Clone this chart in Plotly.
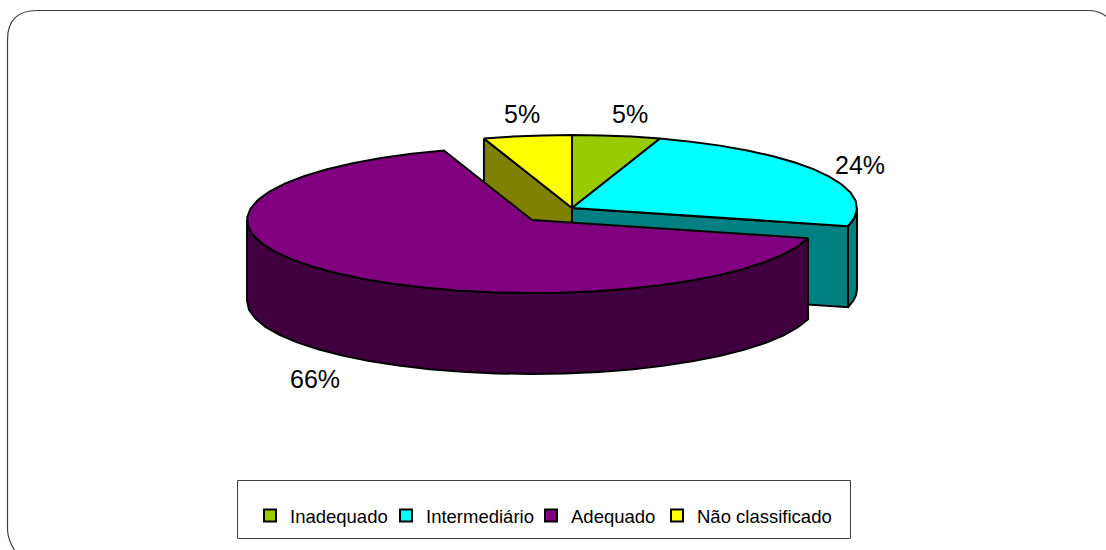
import math
import plotly.graph_objects as go

categories = ["Inadequado", "Intermediário", "Adequado", "Não classificado"]
values = [5, 24, 66, 5]
top_colors = ["#99CC00", "#00FFFF", "#800080", "#FFFF00"]
side_colors = ["#4D6600", "#008080", "#400040", "#808000"]
label_pos = [(630, 114), (860, 165), (315, 379), (522, 114)]
legend_text_x = [290, 426, 571, 697]

CX, CY = 572, 208        # centre of the pie, in page pixels
EX, EY = 532, 220        # centre of the pulled-out slice
RX, RY = 285, 73
DEPTH = 81
STEP = 7

total = sum(values)
edges = [0]
for v in values:
    edges.append(edges[-1] + v / total * 360)


def pt(cx, cy, a):
    r = math.radians(a)
    return cx + RX * math.sin(r), cy - RY * math.cos(r)


def arc(cx, cy, a0, a1):
    n = max(2, int(abs(a1 - a0) / STEP) + 1)
    return [pt(cx, cy, a0 + (a1 - a0) * i / n) for i in range(n + 1)]


def poly(points, color):
    xs = [p[0] for p in points] + [points[0][0]]
    ys = [p[1] for p in points] + [points[0][1]]
    return go.Scatter(x=xs, y=ys, mode="lines", fill="toself", fillcolor=color,
                      line=dict(color="#000000", width=2), hoverinfo="skip", showlegend=False)


def wall(outer):
    return outer + [(x, y + DEPTH) for x, y in reversed(outer)]


fig = go.Figure()

# Não classificado: cut face, then top
a0, a1 = edges[3], edges[4]
p = pt(CX, CY, a0)
fig.add_trace(poly([p, (CX, CY), (CX, CY + DEPTH), (p[0], p[1] + DEPTH)], side_colors[3]))
fig.add_trace(poly([(CX, CY)] + arc(CX, CY, a0, a1), top_colors[3]))

# Inadequado: top
fig.add_trace(poly([(CX, CY)] + arc(CX, CY, edges[0], edges[1]), top_colors[0]))

# Intermediário: cut face, outer wall, top
e = pt(CX, CY, edges[2])
fig.add_trace(poly([(CX, CY), e, (e[0], e[1] + DEPTH), (CX, CY + DEPTH)], side_colors[1]))
fig.add_trace(poly(wall(arc(CX, CY, 90, edges[2])), side_colors[1]))
fig.add_trace(poly([(CX, CY)] + arc(CX, CY, edges[1], edges[2]), top_colors[1]))

# Adequado: outer wall, top
fig.add_trace(poly(wall(arc(EX, EY, edges[2], 270)), side_colors[2]))
fig.add_trace(poly([(EX, EY)] + arc(EX, EY, edges[2], edges[3]), top_colors[2]))

# Legend entries, one small legend each so the spacing can follow the reference
legends = {}
for i, (name, c, tx) in enumerate(zip(categories, top_colors, legend_text_x)):
    key = "legend" if i == 0 else f"legend{i + 1}"
    fig.add_trace(go.Scatter(x=[None], y=[None], mode="markers", name=name, legend=key,
                             marker=dict(symbol="square", size=12, color=c,
                                         line=dict(color="#000000", width=2))))
    legends[key] = dict(orientation="h", x=(tx - 40) / 1106, xanchor="left",
                        y=1 - 497 / 550, yanchor="top", font=dict(size=18.5),
                        bgcolor="rgba(0,0,0,0)", borderwidth=0,
                        itemclick=False, itemdoubleclick=False)

annotations = [dict(x=x, y=y, text=f"{v}%", showarrow=False, xref="x", yref="y",
                    font=dict(size=25, color="#000000"))
               for (x, y), v in zip(label_pos, values)]

fig.update_layout(
    width=1106, height=550, autosize=False,
    margin=dict(l=0, r=0, t=0, b=0),
    paper_bgcolor="#FFFFFF", plot_bgcolor="#FFFFFF",
    font=dict(family="Liberation Sans, Arial, sans-serif", color="#000000"),
    xaxis=dict(range=[0, 1106], visible=False, fixedrange=True),
    yaxis=dict(range=[550, 0], visible=False, fixedrange=True),
    annotations=annotations,
    shapes=[
        dict(type="path", path="M 7.5 530 L 7.5 40 Q 7.5 10.5 37 10.5 L 1090 10.5 Q 1100 11 1107 17",
             xref="x", yref="y", line=dict(color="#404040", width=1.2)),
        dict(type="path", path="M 7.5 530 Q 8 540 15 551", xref="x", yref="y",
             line=dict(color="#404040", width=1.2)),
        dict(type="rect", x0=237.5, x1=850.5, y0=480.5, y1=538.5, xref="x", yref="y",
             line=dict(color="#404040", width=1), layer="below"),
    ],
    showlegend=True,
    **legends,
)

fig.write_html("out.html", config={"displayModeBar": False},
               post_script="document.body.style.margin='0';document.body.style.overflow='hidden';")
